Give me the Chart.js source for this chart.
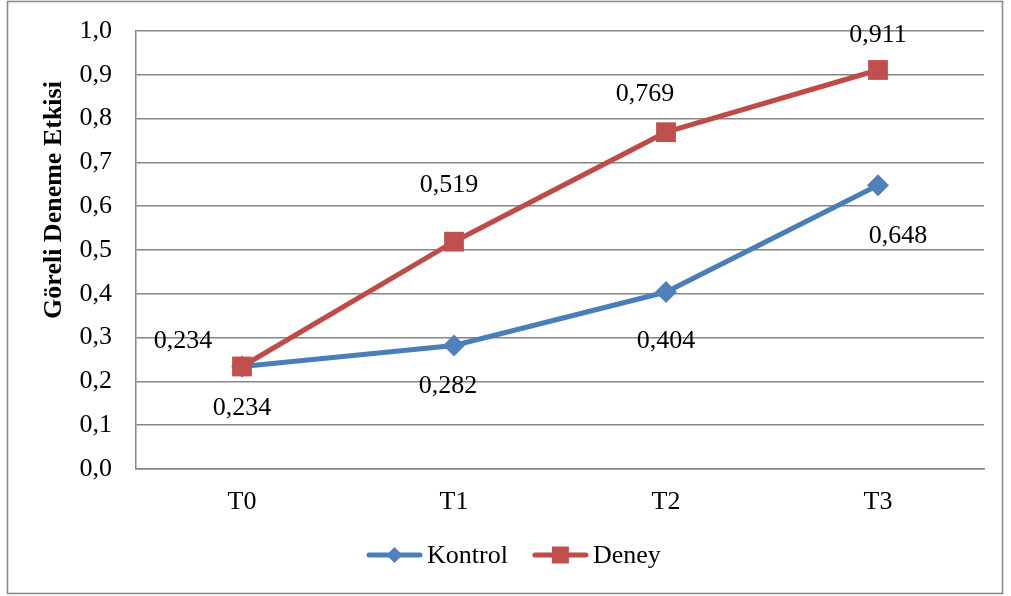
<!DOCTYPE html>
<html>
<head>
<meta charset="utf-8">
<script src="https://cdn.jsdelivr.net/npm/chart.js@4/dist/chart.umd.min.js"></script>
<style>
html,body{margin:0;padding:0;background:#fff;}
#wrap{width:1011px;height:596px;position:relative;}
</style>
</head>
<body>
<div id="wrap"><canvas id="c" width="1011" height="596"></canvas></div>
<script>
const categories = ['T0', 'T1', 'T2', 'T3'];
const kontrolValues = [0.234, 0.282, 0.404, 0.648];
const deneyValues = [0.234, 0.519, 0.769, 0.911];
const seriesNames = ['Kontrol', 'Deney'];
const yAxisTitle = 'Göreli Deneme Etkisi';

const FONT = '"Liberation Serif", "Times New Roman", serif';
const BLUE_LINE = '#4A7EBB';
const BLUE_MARK = '#4F81BD';
const RED_LINE = '#BE4B48';
const RED_MARK = '#C0504D';
const GRID = '#868686';

// label offsets (pixels) relative to each point
const labelOffsets = {
  Kontrol: [[0, 40], [-6, 40], [0, 48], [20, 50]],
  Deney: [[-59, -27], [-5, -58], [-21, -39], [0, -36]]
};

const fmt = v => v.toFixed(3).replace('.', ',');

const decor = {
  id: 'decor',
  beforeDraw(chart) {
    const ctx = chart.ctx;
    ctx.save();
    ctx.fillStyle = '#fff';
    ctx.fillRect(0, 0, chart.width, chart.height);
    ctx.strokeStyle = '#8a8a8a';
    ctx.lineWidth = 1.6;
    ctx.strokeRect(7.5, 1.5, 995, 592);
    ctx.restore();
  },
  afterDraw(chart) {
    const ctx = chart.ctx;
    ctx.save();
    // data labels
    ctx.font = '26px ' + FONT;
    ctx.fillStyle = '#000';
    ctx.textAlign = 'center';
    ctx.textBaseline = 'alphabetic';
    chart.data.datasets.forEach((ds, di) => {
      const meta = chart.getDatasetMeta(di);
      const offs = labelOffsets[ds.label];
      meta.data.forEach((pt, i) => {
        const o = offs[i];
        ctx.fillText(fmt(ds.data[i]), pt.x + o[0], pt.y + o[1] + 8);
      });
    });
    // y axis title
    ctx.save();
    ctx.translate(53, 200);
    ctx.rotate(-Math.PI / 2);
    ctx.font = 'bold 26px ' + FONT;
    ctx.textAlign = 'center';
    ctx.textBaseline = 'middle';
    ctx.fillText(yAxisTitle, 0, 1);
    ctx.restore();
    // legend
    const ly = 555;
    let x = 367;
    const items = [
      {name: seriesNames[0], color: BLUE_LINE, mark: BLUE_MARK, shape: 'diamond'},
      {name: seriesNames[1], color: RED_LINE, mark: RED_MARK, shape: 'square'}
    ];
    ctx.font = '26px ' + FONT;
    ctx.textAlign = 'left';
    items.forEach(it => {
      ctx.strokeStyle = it.color;
      ctx.lineWidth = 5;
      ctx.lineCap = 'round';
      ctx.beginPath();
      ctx.moveTo(x + 2, ly);
      ctx.lineTo(x + 53, ly);
      ctx.stroke();
      const cx = x + 27.5;
      ctx.fillStyle = it.mark;
      ctx.beginPath();
      if (it.shape === 'diamond') {
        ctx.moveTo(cx, ly - 8); ctx.lineTo(cx + 8, ly); ctx.lineTo(cx, ly + 8); ctx.lineTo(cx - 8, ly);
        ctx.closePath(); ctx.fill();
      } else {
        ctx.fillRect(cx - 8.5, ly - 8.5, 17, 17);
      }
      ctx.fillStyle = '#000';
      ctx.fillText(it.name, x + 60, ly + 8);
      x += 60 + ctx.measureText(it.name).width + 25;
    });
    ctx.restore();
  }
};

new Chart(document.getElementById('c'), {
  type: 'line',
  data: {
    labels: categories,
    datasets: [
      {
        label: seriesNames[0],
        data: kontrolValues,
        borderColor: BLUE_LINE,
        backgroundColor: BLUE_MARK,
        borderWidth: 5,
        pointStyle: 'rectRot',
        pointRadius: 11,
        pointBorderWidth: 0,
        pointBackgroundColor: BLUE_MARK,
        tension: 0,
        order: 1
      },
      {
        label: seriesNames[1],
        data: deneyValues,
        borderColor: RED_LINE,
        backgroundColor: RED_MARK,
        borderWidth: 5,
        pointStyle: 'rect',
        pointRadius: 14,
        pointBorderWidth: 0,
        pointBackgroundColor: RED_MARK,
        tension: 0,
        order: 0
      }
    ]
  },
  options: {
    responsive: false,
    animation: false,
    devicePixelRatio: 1,
    layout: {padding: {left: 0, right: 27, top: 31, bottom: 0}},
    plugins: {legend: {display: false}, tooltip: {enabled: false}},
    scales: {
      x: {
        offset: true,
        grid: {display: false, drawTicks: false},
        border: {display: true, color: GRID, width: 1.5},
        ticks: {color: '#000', font: {family: FONT, size: 26}, padding: 18},
        afterFit(s) { s.height = 127; s.paddingLeft = 0; s.paddingRight = 0; }
      },
      y: {
        min: 0,
        max: 1,
        grid: {color: GRID, lineWidth: 1.5, drawTicks: false},
        border: {display: true, color: GRID, width: 1.5},
        ticks: {
          stepSize: 0.1,
          color: '#000',
          font: {family: FONT, size: 26},
          padding: 24,
          callback: v => v.toFixed(1).replace('.', ',')
        },
        afterFit(s) { s.width = 136; s.paddingTop = 0; s.paddingBottom = 0; }
      }
    }
  },
  plugins: [decor]
});
</script>
</body>
</html>
